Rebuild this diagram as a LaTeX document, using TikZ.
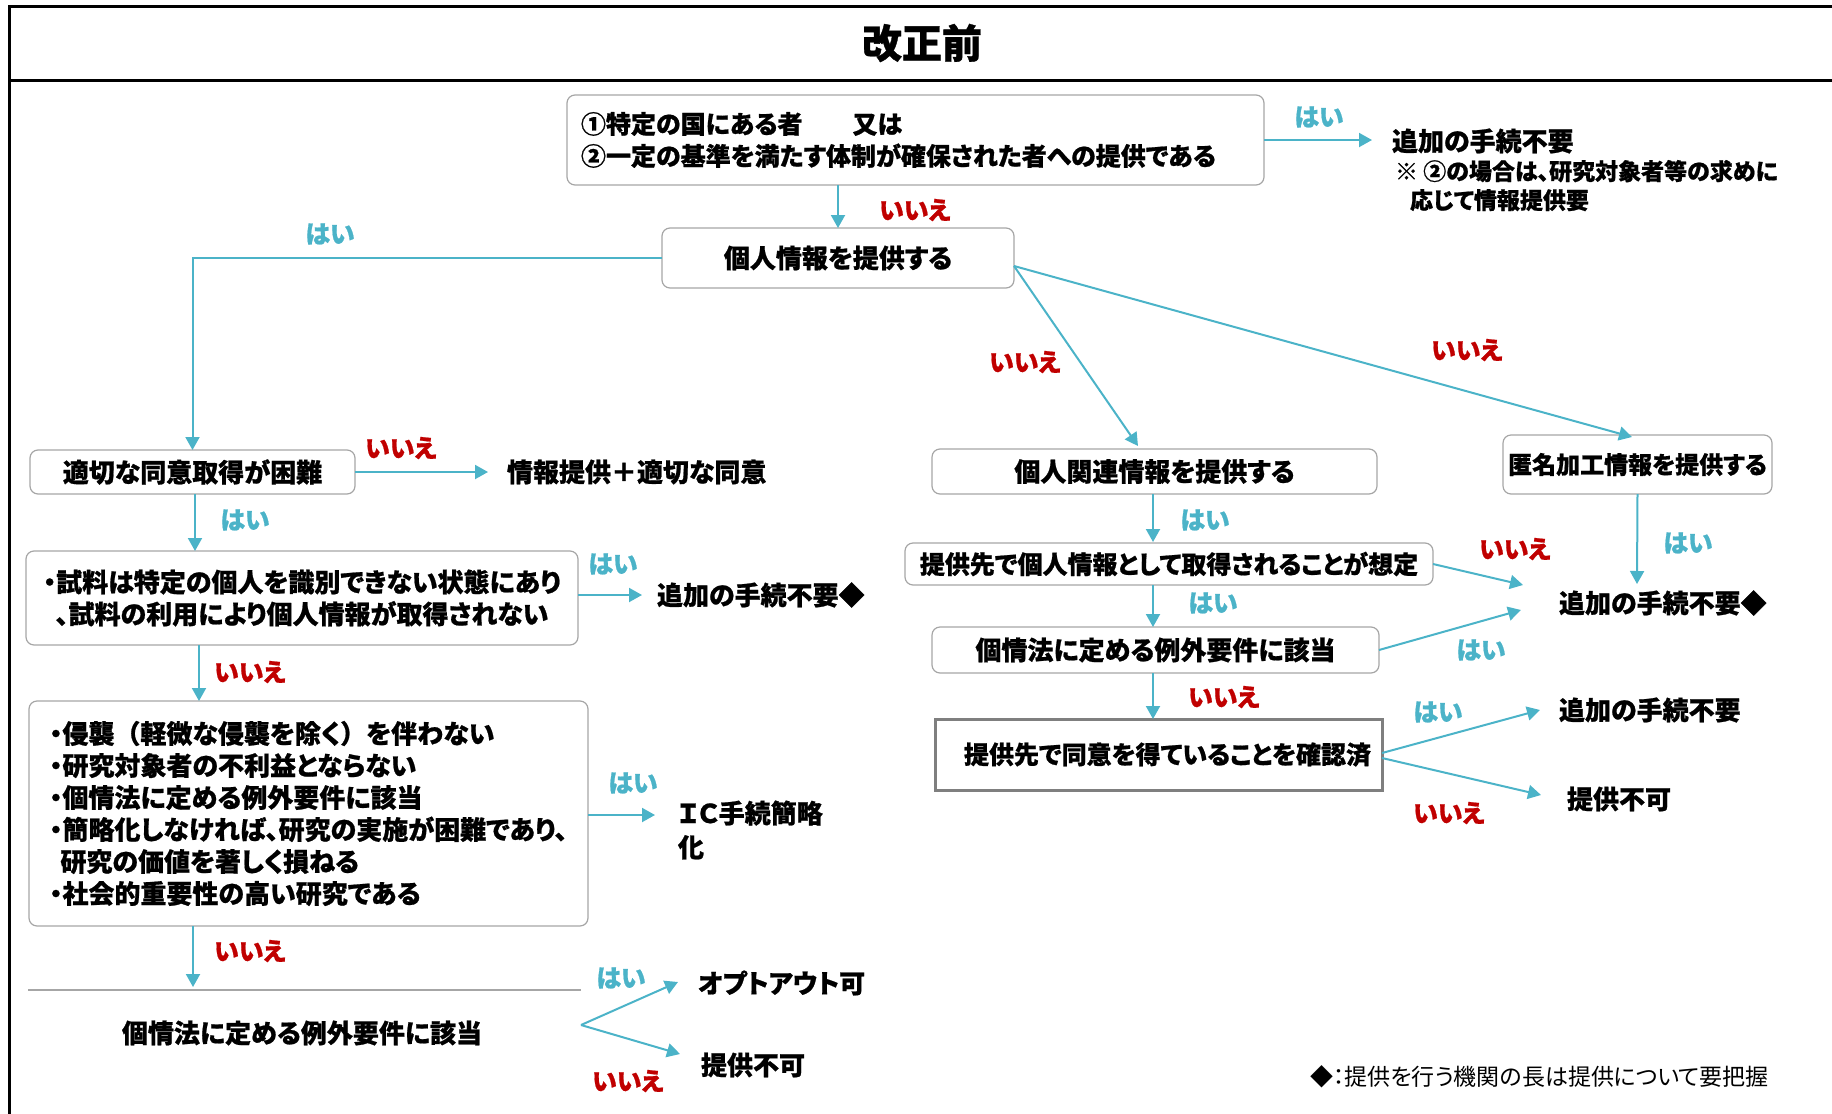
\documentclass[tikz,border=0pt]{standalone}
\usepackage{fontspec}
\setmainfont{Noto Sans CJK JP}[RawFeature={+palt}, BoldFeatures={FakeBold=0.8}]
\newfontfamily\nopaltjp{Noto Sans CJK JP}[BoldFeatures={FakeBold=0.8}]
\usetikzlibrary{arrows.meta,calc}
\definecolor{tealA}{HTML}{4BB3C8}
\definecolor{redA}{HTML}{C00000}
\definecolor{grayA}{HTML}{A6A6A6}
\definecolor{grayB}{HTML}{7F7F7F}
\begin{document}
\begin{tikzpicture}[x=1pt,y=-1pt,
  every node/.style={inner sep=0pt, outer sep=0pt},
  box/.style={draw=grayA, line width=1.2pt, rounded corners=8pt, font=\bfseries\fontsize{26}{32}\selectfont, align=center},
  txt/.style={font=\bfseries\fontsize{26}{32}\selectfont, anchor=west, align=left},
  arr/.style={draw=tealA, line width=2pt, -{Triangle[length=13pt,width=14pt]}},
  yes/.style={text=tealA, font=\bfseries\fontsize{25}{28}\selectfont},
  no/.style={text=redA, font=\bfseries\fontsize{25}{28}\selectfont},
  frameline/.style={draw=black, line width=3pt}
]
\useasboundingbox (0,0) rectangle (1832,1114);
% frame
\coordinate (fTL) at (9,6);
\coordinate (fTR) at (1832,6);
\coordinate (fML) at (9,80);
\coordinate (fMR) at (1832,80);
\coordinate (fBL) at (9,1114);
\draw[frameline] (fTR) -- (fTL) -- (fBL);
\draw[frameline] (fML) -- (fMR);
\node[font=\bfseries\fontsize{40}{44}\selectfont] (title) at (922,43) {改正前};

% boxes
\node[box, align=left, text width=669pt, inner xsep=14pt, minimum height=90pt, font=\bfseries\fontsize{25}{32}\selectfont] (b1) at (915.5,140) {①特定の国にある者　　又は\\②一定の基準を満たす体制が確保された者への提供である};
\node[box, minimum width=352pt, minimum height=60pt] (b2) at (838,258) {個人情報を提供する};
\node[box, minimum width=325pt, minimum height=44pt] (b3) at (192.5,472) {適切な同意取得が困難};
\node[box, minimum width=552pt, minimum height=94pt] (b4) at (302,598) {・試料は特定の個人を識別できない状態にあり\\、試料の利用により個人情報が取得されない};
\node[box, align=left, minimum width=559pt, minimum height=225pt] (b5) at (308.5,813.5) {・侵襲{\nopaltjp （}軽微な侵襲を除く{\nopaltjp ）}を伴わない\\・研究対象者の不利益とならない\\・個情法に定める例外要件に該当\\・簡略化しなければ、研究の実施が困難であり、\\\hspace*{11pt}研究の価値を著しく損ねる\\・社会的重要性の高い研究である};
\coordinate (sepL) at (28,990);
\coordinate (sepR) at (581,990);
\draw[draw=grayA, line width=2pt] (sepL) -- (sepR);
\node[font=\bfseries\fontsize{26}{32}\selectfont] (b6) at (302,1033) {個情法に定める例外要件に該当};
\node[box, minimum width=445pt, minimum height=45pt] (b7) at (1154.5,471.5) {個人関連情報を提供する};
\node[box, minimum width=269pt, minimum height=59pt, font=\bfseries\fontsize{24}{30}\selectfont] (b8) at (1637.5,464.5) {匿名加工情報を提供する};
\node[box, minimum width=528pt, minimum height=42pt, font=\bfseries\fontsize{25}{30}\selectfont] (b9) at (1169,564) {提供先で個人情報として取得されることが想定};
\node[box, minimum width=447pt, minimum height=46pt] (b10) at (1155.5,650) {個情法に定める例外要件に該当};
\node[box, draw=grayB, line width=3pt, rounded corners=0pt, minimum width=447pt, minimum height=71pt, font=\bfseries\fontsize{25}{30}\selectfont] (b11) at (1158.5,754.5) {\hspace*{18pt}提供先で同意を得ていることを確認済};

% outcomes
\node[txt] (o1) at (1392,141) {追加の手続不要};
\node[font=\bfseries\fontsize{23}{29}\selectfont, anchor=north west, align=left] (note) at (1395,160) {※ ②の場合は、研究対象者等の求めに\\\hspace*{15pt}応じて情報提供要};
\node[txt] (o2) at (507,472) {情報提供＋適切な同意};
\node[txt] (o3) at (657,595) {追加の手続不要◆};
\node[txt, font=\bfseries\fontsize{26}{34}\selectfont] (o4) at (678,830) {ＩＣ手続簡略\\化};
\node[txt] (o5) at (698,983) {オプトアウト可};
\node[txt] (o6) at (701,1065) {提供不可};
\node[txt] (o7) at (1559,603) {追加の手続不要◆};
\node[txt] (o8) at (1559,710) {追加の手続不要};
\node[txt] (o9) at (1567,799) {提供不可};
\node[font=\fontsize{23}{28}\selectfont, anchor=west] (foot) at (1310,1077) {◆：提供を行う機関の長は提供について要把握};

% free ends
\coordinate (e1) at (1372,140);
\coordinate (s4) at (1014,266);
\coordinate (e4) at (1138,446);
\coordinate (e5) at (1632,437);
\coordinate (e6) at (488,472);
\coordinate (s7) at (195,494);
\coordinate (e7) at (195,551);
\coordinate (e8) at (642,595);
\coordinate (s9) at (199,645);
\coordinate (e9) at (199,701);
\coordinate (e10) at (655,815);
\coordinate (s11) at (193,926);
\coordinate (e11) at (193,987);
\coordinate (s12) at (581,1025);
\coordinate (e12a) at (678,982);
\coordinate (e12b) at (680,1054);
\coordinate (s13) at (1153,494);
\coordinate (e13) at (1153,542);
\coordinate (e14) at (1637,584);
\coordinate (s15) at (1433,564);
\coordinate (e15) at (1523,585);
\coordinate (s16) at (1153,585);
\coordinate (e16) at (1153,627);
\coordinate (s17) at (1379,650);
\coordinate (e17) at (1521,610);
\coordinate (s18) at (1153,673);
\coordinate (e18) at (1153,719);
\coordinate (s19a) at (1382,753);
\coordinate (e19a) at (1540,710);
\coordinate (s19b) at (1382,758);
\coordinate (e19b) at (1541,795);

% connectors
\draw[arr] (b1.east |- e1) -- (e1);
\draw[arr] (b1.south -| b2.north) -- (b2.north);
\draw[arr] (b2.west) -| (b3.north);
\draw[arr] (s4) -- (e4);
\draw[arr] (s4) -- (e5);
\draw[arr] (b3.east) -- (e6);
\draw[arr] (s7) -- (e7);
\draw[arr] (b4.east |- e8) -- (e8);
\draw[arr] (s9) -- (e9);
\draw[arr] (b5.east |- e10) -- (e10);
\draw[arr] (s11) -- (e11);
\draw[arr] (s12) -- (e12a);
\draw[arr] (s12) -- (e12b);
\draw[arr] (s13) -- (e13);
\draw[arr] (b8.south) -- (e14);
\draw[arr] (s15) -- (e15);
\draw[arr] (s16) -- (e16);
\draw[arr] (s17) -- (e17);
\draw[arr] (s18) -- (e18);
\draw[arr] (s19a) -- (e19a);
\draw[arr] (s19b) -- (e19b);

% labels
\node[yes] (l1) at (1319,117) {はい};
\node[no] (l2) at (915,210) {いいえ};
\node[yes] (l3) at (330,234) {はい};
\node[no] (l4) at (1025,362) {いいえ};
\node[no] (l5) at (1467,350) {いいえ};
\node[no] (l6) at (401,448) {いいえ};
\node[yes] (l7) at (245,520) {はい};
\node[yes] (l8) at (613,564) {はい};
\node[no] (l9) at (250,672) {いいえ};
\node[yes] (l10) at (633,783) {はい};
\node[no] (l11) at (250,951) {いいえ};
\node[yes] (l12a) at (621,978) {はい};
\node[no] (l12b) at (628,1081) {いいえ};
\node[yes] (l13) at (1205,520) {はい};
\node[yes] (l14) at (1688,543) {はい};
\node[no] (l15) at (1515,549) {いいえ};
\node[yes] (l16) at (1213,603) {はい};
\node[yes] (l17) at (1481,650) {はい};
\node[no] (l18) at (1224,697) {いいえ};
\node[yes] (l19a) at (1438,712) {はい};
\node[no] (l19b) at (1449,813) {いいえ};
\end{tikzpicture}
\end{document}
